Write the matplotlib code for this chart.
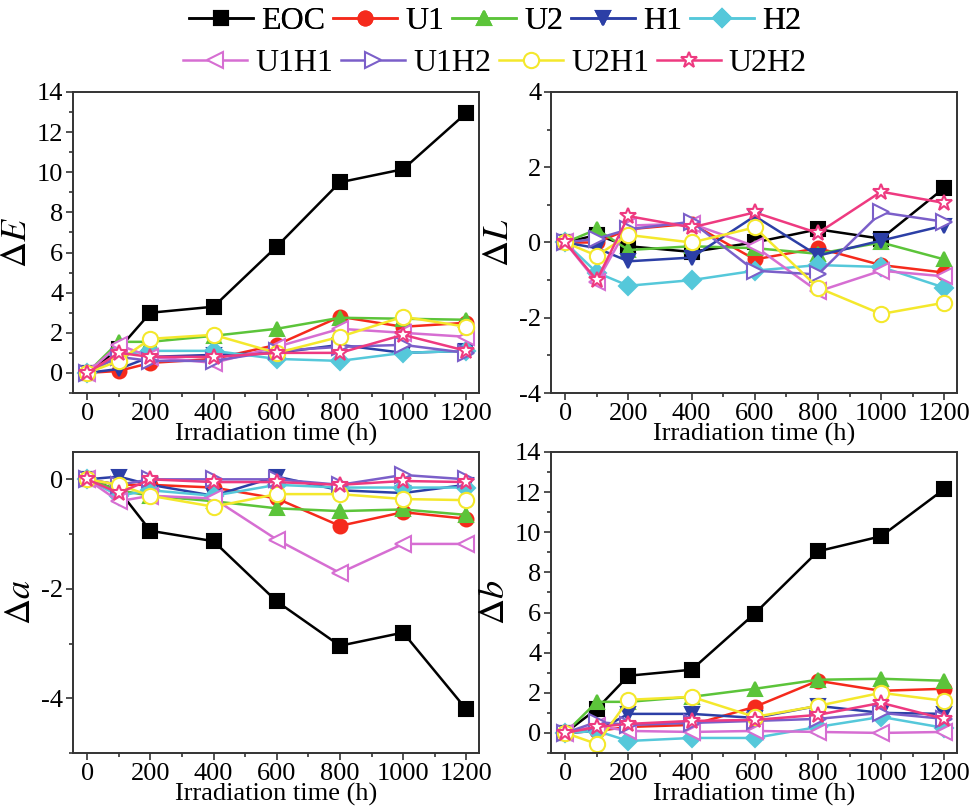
import numpy as np
import matplotlib
matplotlib.use('Agg')
from matplotlib import pyplot as plt
from matplotlib.ticker import MultipleLocator

plt.rcParams['font.family'] = 'serif'
plt.rcParams['font.serif'] = ['Liberation Serif', 'DejaVu Serif']
plt.rcParams['mathtext.fontset'] = 'stix'
plt.rcParams['axes.unicode_minus'] = False

# Irradiation times (h)
hours = [0, 100, 200, 400, 600, 800, 1000, 1200]

names = ['EOC', 'U1', 'U2', 'H1', 'H2', 'U1H1', 'U1H2', 'U2H1', 'U2H2']

# colour difference dE
dE_EOC = [0, 1.2, 3.0, 3.3, 6.3, 9.5, 10.15, 12.95]
dE_U1 = [0, 0.1, 0.5, 0.7, 1.4, 2.8, 2.3, 2.5]
dE_U2 = [0, 1.55, 1.55, 1.85, 2.2, 2.75, 2.7, 2.65]
dE_H1 = [0, 0.2, 0.8, 0.9, 1.0, 1.4, 1.0, 1.1]
dE_H2 = [0, 0.9, 1.1, 1.1, 0.7, 0.6, 1.0, 1.1]
dE_U1H1 = [0, 1.4, 0.8, 0.5, 1.3, 2.2, 2.0, 1.8]
dE_U1H2 = [0, 0.8, 0.6, 0.6, 1.1, 1.3, 1.4, 1.0]
dE_U2H1 = [0, 0.6, 1.7, 1.9, 1.0, 1.8, 2.8, 2.3]
dE_U2H2 = [0, 1.0, 0.8, 0.8, 1.0, 1.0, 1.9, 1.1]

# lightness dL
dL_EOC = [0, 0.2, -0.1, -0.25, 0.0, 0.35, 0.1, 1.45]
dL_U1 = [0, 0.0, 0.35, 0.5, -0.45, -0.15, -0.6, -0.8]
dL_U2 = [0, 0.35, -0.2, -0.1, -0.15, -0.3, 0.0, -0.45]
dL_H1 = [0, -0.15, -0.5, -0.4, 0.7, -0.35, 0.05, 0.45]
dL_H2 = [0, -0.8, -1.15, -1.0, -0.75, -0.6, -0.65, -1.2]
dL_U1H1 = [0, -1.05, 0.45, 0.5, -0.1, -1.3, -0.75, -0.9]
dL_U1H2 = [0, 0.1, 0.35, 0.55, -0.75, -0.85, 0.8, 0.55]
dL_U2H1 = [0, -0.35, 0.2, 0.0, 0.4, -1.2, -1.9, -1.6]
dL_U2H2 = [0, -1.0, 0.7, 0.4, 0.8, 0.25, 1.35, 1.05]

# red-green da
da_EOC = [0, -0.2, -0.94, -1.13, -2.23, -3.04, -2.8, -4.2]
da_U1 = [0, -0.1, -0.1, -0.15, -0.35, -0.85, -0.6, -0.72]
da_U2 = [0, -0.2, -0.3, -0.4, -0.53, -0.58, -0.55, -0.65]
da_H1 = [0, 0.05, -0.1, -0.3, 0.05, -0.2, -0.25, -0.1]
da_H2 = [0, -0.3, -0.2, -0.3, -0.1, -0.15, -0.15, -0.15]
da_U1H1 = [0, -0.4, -0.3, -0.35, -1.1, -1.71, -1.18, -1.18]
da_U1H2 = [0, -0.1, 0.0, 0.0, 0.0, -0.1, 0.08, 0.0]
da_U2H1 = [0, -0.1, -0.3, -0.5, -0.27, -0.27, -0.36, -0.38]
da_U2H2 = [0, -0.25, 0.0, -0.05, -0.05, -0.1, -0.03, -0.05]

# yellow-blue db
db_EOC = [0, 1.2, 2.85, 3.15, 5.95, 9.05, 9.8, 12.15]
db_U1 = [0, 0.1, 0.3, 0.4, 1.3, 2.6, 2.1, 2.2]
db_U2 = [0, 1.55, 1.55, 1.8, 2.2, 2.65, 2.7, 2.6]
db_H1 = [0, 0.1, 0.95, 0.95, 0.75, 1.35, 1.0, 0.95]
db_H2 = [0, 0.1, -0.4, -0.25, -0.25, 0.3, 0.8, 0.25]
db_U1H1 = [0, 0.35, 0.1, 0.05, 0.1, 0.05, 0.0, 0.05]
db_U1H2 = [0, 0.55, 0.4, 0.5, 0.6, 0.7, 1.0, 0.7]
db_U2H1 = [0, -0.55, 1.65, 1.8, 0.8, 1.35, 2.0, 1.6]
db_U2H2 = [0, 0.3, 0.45, 0.6, 0.65, 0.9, 1.5, 0.7]

panels = [
    (r'$\Delta\mathit{E}$', [dE_EOC, dE_U1, dE_U2, dE_H1, dE_H2, dE_U1H1, dE_U1H2, dE_U2H1, dE_U2H2], (-1, 14)),
    (r'$\Delta\mathit{L}$', [dL_EOC, dL_U1, dL_U2, dL_H1, dL_H2, dL_U1H1, dL_U1H2, dL_U2H1, dL_U2H2], (-4, 4)),
    (r'$\Delta\mathit{a}$', [da_EOC, da_U1, da_U2, da_H1, da_H2, da_U1H1, da_U1H2, da_U2H1, da_U2H2], (-5, 0.5)),
    (r'$\Delta\mathit{b}$', [db_EOC, db_U1, db_U2, db_H1, db_H2, db_U1H1, db_U1H2, db_U2H1, db_U2H2], (-1, 14)),
]

colors = ['#000000', '#f52a1c', '#5cc43a', '#2c3fa6', '#55c8da',
          '#d66ed2', '#7b5fc9', '#f4e82c', '#ee3a80']
markers = ['s', 'o', '^', 'v', 'D', '<', '>', 'o', '*']
filled = [True, True, True, True, True, False, False, False, False]
msizes = [10, 10, 10, 10, 9, 11, 11, 11, 12]

fig = plt.figure(figsize=(9.71, 8.11), dpi=100)
positions = [
    [0.0752, 0.5154, 0.418, 0.3712],
    [0.5675, 0.5154, 0.418, 0.3712],
    [0.0752, 0.0715, 0.418, 0.3712],
    [0.5675, 0.0715, 0.418, 0.3712],
]

handles = []
for k, (ylab, series, ylim) in enumerate(panels):
    ax = fig.add_axes(positions[k])
    for i, ys in enumerate(series):
        face = colors[i] if filled[i] else 'white'
        h, = ax.plot(hours, ys, color=colors[i], lw=1.8, marker=markers[i],
                     ms=msizes[i], mfc=face, mec=colors[i], mew=1.5,
                     label=names[i])
        if k == 0:
            handles.append(h)
    ax.set_xlim(-45, 1240)
    ax.set_ylim(*ylim)
    ax.set_xticks([0, 200, 400, 600, 800, 1000, 1200])
    ax.xaxis.set_minor_locator(MultipleLocator(100))
    ax.yaxis.set_major_locator(MultipleLocator(2))
    ax.yaxis.set_minor_locator(MultipleLocator(1))
    ax.tick_params(which='both', direction='out', top=False, right=False,
                   labelsize=19, width=1.2, color='#333333', pad=2)
    ax.tick_params(which='major', length=5)
    ax.tick_params(which='minor', length=3)
    for sp in ax.spines.values():
        sp.set_linewidth(1.4)
        sp.set_color('#333333')
    ax.set_xlabel('Irradiation time (h)', fontsize=19, labelpad=-1)
    ax.set_ylabel(ylab, fontsize=26, labelpad=2)

# two legend rows, each centred
leg1 = fig.legend(handles[:5], names[:5], loc='center', bbox_to_anchor=(0.51, 0.974),
                  ncol=5, frameon=False, fontsize=23, handlelength=2.0,
                  columnspacing=0.25, handletextpad=0.25, borderpad=0)
leg2 = fig.legend(handles[5:], names[5:], loc='center', bbox_to_anchor=(0.51, 0.922),
                  ncol=4, frameon=False, fontsize=23, handlelength=2.0,
                  columnspacing=0.25, handletextpad=0.25, borderpad=0)
fig.add_artist(leg1)

fig.savefig('out.png', dpi=100)
